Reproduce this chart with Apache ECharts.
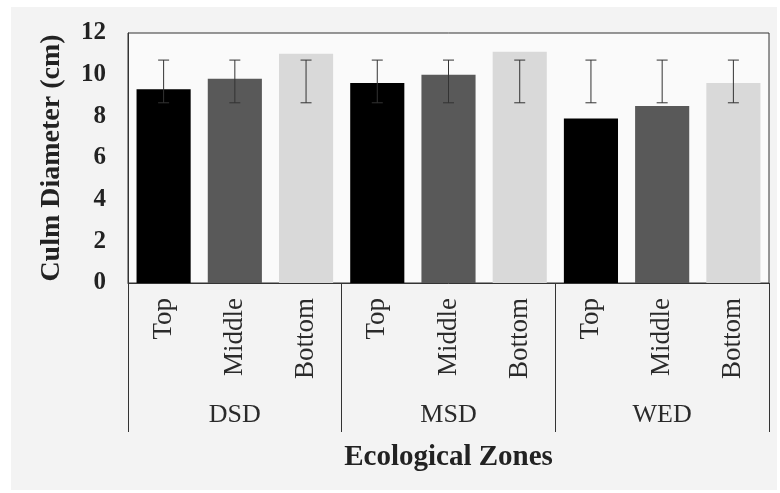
<!DOCTYPE html>
<html>
<head>
<meta charset="utf-8">
<script src="https://cdn.jsdelivr.net/npm/echarts@6/dist/echarts.min.js"></script>
<style>
  html, body { margin: 0; padding: 0; background: #ffffff; }
  #chart { width: 780px; height: 493px; }
</style>
</head>
<body>
<div id="chart"></div>
<script>
// Culm diameter by stem position within each ecological zone
const positions = ['Top', 'Middle', 'Bottom', 'Top', 'Middle', 'Bottom', 'Top', 'Middle', 'Bottom'];
const zones = ['DSD', 'MSD', 'WED'];
const diameter = [9.3, 9.8, 11.0, 9.6, 10.0, 11.1, 7.9, 8.5, 9.6];
const errLow = [8.65, 8.65, 8.65, 8.65, 8.65, 8.65, 8.65, 8.65, 8.65];
const errHigh = [10.7, 10.7, 10.7, 10.7, 10.7, 10.7, 10.7, 10.7, 10.7];
const yTicks = [0, 2, 4, 6, 8, 10, 12];

const positionColors = { Top: '#000000', Middle: '#595959', Bottom: '#d9d9d9' };
const FONT = '"Liberation Serif", "Times New Roman", serif';

const chart = echarts.init(document.getElementById('chart'), null, { renderer: 'canvas' });

const barData = diameter.map((v, i) => ({
  value: v,
  itemStyle: { color: positionColors[positions[i]] }
}));

const errData = positions.map((p, i) => [i, errLow[i], errHigh[i]]);

chart.setOption({
  backgroundColor: '#ffffff',
  animation: false,
  graphic: [{
    type: 'rect',
    z: -10,
    shape: { x: 11, y: 7, width: 766, height: 483 },
    style: { fill: '#f3f3f3' }
  }],
  grid: {
    left: 128, right: 11, top: 33, bottom: 210,
    show: true,
    backgroundColor: '#fafafa',
    borderColor: '#333333',
    borderWidth: 1
  },
  xAxis: [{
    type: 'category',
    data: positions,
    position: 'bottom',
    axisLine: { show: true, lineStyle: { color: '#333333', width: 1 } },
    axisTick: { show: false },
    axisLabel: {
      rotate: 90,
      margin: 15,
      fontFamily: FONT,
      fontSize: 27,
      color: '#2a2a2a'
    }
  }, {
    type: 'category',
    data: zones,
    position: 'bottom',
    axisLine: { show: false },
    axisTick: { show: true, length: 149, lineStyle: { color: '#333333', width: 1 } },
    axisLabel: {
      margin: 119,
      fontFamily: FONT,
      fontSize: 26,
      color: '#2a2a2a'
    },
    name: 'Ecological Zones',
    nameLocation: 'middle',
    nameGap: 160,
    nameTextStyle: {
      fontFamily: FONT,
      fontSize: 29,
      fontWeight: 'bold',
      color: '#222222'
    }
  }],
  yAxis: {
    type: 'value',
    min: yTicks[0],
    max: yTicks[yTicks.length - 1],
    interval: 2,
    splitLine: { show: false },
    axisLine: { show: true, lineStyle: { color: '#333333', width: 1 } },
    axisTick: { show: false },
    axisLabel: {
      margin: 22,
      fontFamily: FONT,
      fontSize: 25,
      fontWeight: 'bold',
      color: '#222222'
    },
    name: 'Culm Diameter (cm)',
    nameLocation: 'middle',
    nameGap: 62,
    nameTextStyle: {
      fontFamily: FONT,
      fontSize: 28,
      fontWeight: 'bold',
      color: '#222222'
    }
  },
  series: [{
    type: 'bar',
    xAxisIndex: 0,
    data: barData,
    barCategoryGap: '24%'
  }, {
    type: 'custom',
    xAxisIndex: 0,
    z: 5,
    data: errData,
    renderItem: function (params, api) {
      const x = api.value(0);
      const lo = api.coord([x, api.value(1)]);
      const hi = api.coord([x, api.value(2)]);
      const half = 5.5;
      const style = { stroke: '#333333', lineWidth: 1 };
      return {
        type: 'group',
        children: [
          { type: 'line', shape: { x1: lo[0], y1: lo[1], x2: hi[0], y2: hi[1] }, style: style },
          { type: 'line', shape: { x1: hi[0] - half, y1: hi[1], x2: hi[0] + half, y2: hi[1] }, style: style },
          { type: 'line', shape: { x1: lo[0] - half, y1: lo[1], x2: lo[0] + half, y2: lo[1] }, style: style }
        ]
      };
    }
  }]
});
</script>
</body>
</html>
